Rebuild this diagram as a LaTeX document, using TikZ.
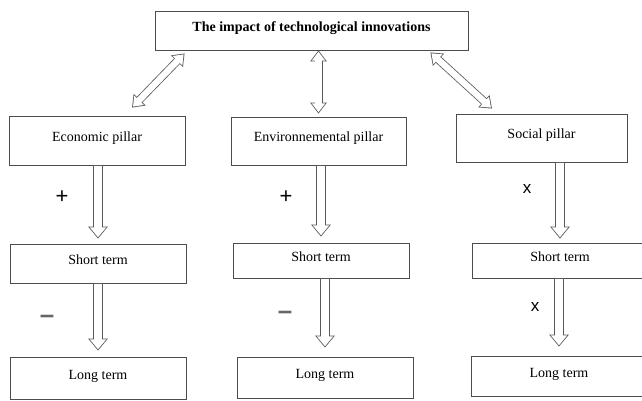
\documentclass[tikz,border=0pt]{standalone}
\usepackage{fontspec}
\setmainfont{Liberation Serif}
\newfontfamily\signfont{Liberation Sans}
\usetikzlibrary{arrows.meta}

\begin{document}
\begin{tikzpicture}[x=1pt, y=-1pt,
  pillar/.style={draw=black!70, line width=0.8pt, inner sep=0pt,
    text height=10pt, text depth=8pt, font=\fontsize{14}{16}\selectfont},
  headline/.style={pillar, font=\bfseries\fontsize{14}{16}\selectfont},
  sign/.style={inner sep=0pt, font=\signfont\fontsize{22}{24}\selectfont},
  cross/.style={inner sep=0pt, font=\signfont\fontsize{17}{19}\selectfont},
  minus/.style={inner sep=0pt, text=black!60, font=\signfont\bfseries\fontsize{26}{28}\selectfont},
  hollow/.style={line width=8.4pt, white, -{Triangle[length=9.9pt, width=15.7pt]},
    shorten >=1.3pt, shorten <=0.8pt,
    preaction={draw=black!65, line width=10pt, -{Triangle[length=12pt, width=19pt]},
      shorten >=0pt, shorten <=0pt}},
  twoway/.style={line width=6.4pt, white,
    {Triangle[length=8.8pt, width=12.9pt]}-{Triangle[length=8.8pt, width=12.9pt]},
    shorten >=1.4pt, shorten <=1.4pt,
    preaction={draw=black!65, line width=8pt,
      {Triangle[length=11pt, width=16pt]}-{Triangle[length=11pt, width=16pt]},
      shorten >=0pt, shorten <=0pt}}]

\useasboundingbox (0,0) rectangle (642,401);

% === Top box ===
\node[headline, minimum width=313pt, minimum height=39pt] (impact) at (311.5,30.5)
  {The impact of technological innovations};

% === Pillars ===
\node[pillar, minimum width=176pt, minimum height=49pt] (eco) at (97,140.5) {Economic pillar};
\node[pillar, minimum width=175pt, minimum height=48pt] (env) at (318.5,141) {Environnemental pillar};
\node[pillar, minimum width=171pt, minimum height=48pt] (soc) at (541.5,138) {Social pillar};

% === Short term ===
\node[pillar, minimum width=176pt, minimum height=39pt] (ecoShort) at (98,263.5) {Short term};
\node[pillar, minimum width=176pt, minimum height=35pt] (envShort) at (321,260.5) {Short term};
\node[pillar, minimum width=176pt, minimum height=35pt] (socShort) at (560,260.5) {Short term};

% === Long term ===
\node[pillar, minimum width=176pt, minimum height=42pt] (ecoLong) at (98,378) {Long term};
\node[pillar, minimum width=176pt, minimum height=41pt] (envLong) at (325,377.5) {Long term};
\node[pillar, minimum width=176pt, minimum height=40pt] (socLong) at (559,376) {Long term};

% === Links to the top box ===
\draw[twoway] ([xshift=30pt, yshift=-3pt]impact.south west) -- ([xshift=35pt, yshift=8pt]eco.north);
\draw[twoway] (env.north |- impact.south) -- ([yshift=3pt]env.north);
\draw[twoway] ([xshift=-38pt, yshift=-2pt]impact.south east) -- ([xshift=-49.5pt, yshift=5pt]soc.north);

% === Pillar to short term ===
\draw[hollow] (ecoShort.north |- eco.south) -- ([yshift=5pt]ecoShort.north);
\draw[hollow] (envShort.north |- env.south) -- ([yshift=6pt]envShort.north);
\draw[hollow] (socShort.north |- soc.south) -- ([yshift=4pt]socShort.north);

% === Short term to long term ===
\draw[hollow] (ecoLong.north |- ecoShort.south) -- ([yshift=6pt]ecoLong.north);
\draw[hollow] (envLong.north |- envShort.south) -- ([yshift=9pt]envLong.north);
\draw[hollow] (socLong.north |- socShort.south) -- ([yshift=9pt]socLong.north);

% === Signs ===
\node[sign] (plusEco) at (62,197) {+};
\node[sign] (plusEnv) at (286,197) {+};
\node[cross] (crossSoc) at (527,189) {x};
\node[minus] (minusEco) at (47,319) {–};
\node[minus] (minusEnv) at (285,315) {–};
\node[cross] (crossSocLong) at (535,307) {x};

\end{tikzpicture}
\end{document}
